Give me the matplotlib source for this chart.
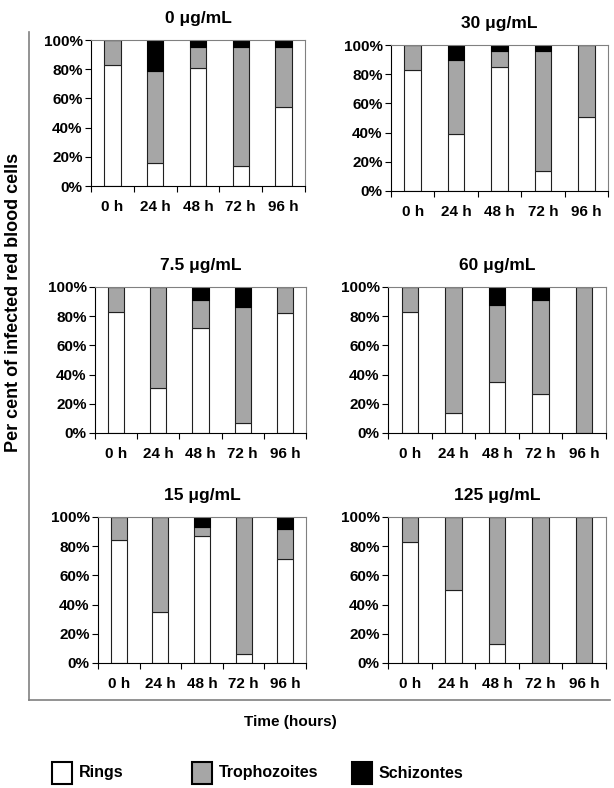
import numpy as np
import matplotlib.pyplot as plt
from matplotlib.lines import Line2D
from matplotlib.patches import Rectangle

plt.rcParams['font.family'] = ['Liberation Sans', 'DejaVu Sans']
plt.rcParams['font.weight'] = 'bold'

# --- data (percent of infected red blood cells) ---
times = ["0 h", "24 h", "48 h", "72 h", "96 h"]
panels = ["0 \u03bcg/mL", "30 \u03bcg/mL", "7.5 \u03bcg/mL",
          "60 \u03bcg/mL", "15 \u03bcg/mL", "125 \u03bcg/mL"]

rings = [
    [83, 16, 81, 14, 54],
    [83, 39, 85, 14, 51],
    [83, 31, 72, 7, 82],
    [83, 14, 35, 27, 0],
    [84, 35, 87, 6, 71],
    [83, 50, 13, 0, 0],
]
troph = [
    [17, 63, 14, 81, 41],
    [17, 51, 11, 82, 49],
    [17, 69, 19, 79, 18],
    [17, 86, 53, 64, 100],
    [16, 65, 6, 94, 21],
    [17, 50, 87, 100, 100],
]
schiz = [
    [0, 21, 5, 5, 5],
    [0, 10, 4, 4, 0],
    [0, 0, 9, 14, 0],
    [0, 0, 12, 9, 0],
    [0, 0, 7, 0, 8],
    [0, 0, 0, 0, 0],
]

# axes placement in pixels: left, y of the 0% line, width
W, H = 614, 788
pos = [(91, 186, 214), (391, 191, 217),
       (95, 433, 211), (388, 433, 218),
       (98, 663, 208), (388, 663, 218)]
ph = 146

fig = plt.figure(figsize=(W / 100, H / 100), dpi=100)
gray = '#a6a6a6'
x = np.arange(len(times))
bw = 0.38

for i, name in enumerate(panels):
    l, b, w = pos[i]
    ax = fig.add_axes([l / W, 1 - b / H, w / W, ph / H])
    r = np.array(rings[i])
    t = np.array(troph[i])
    s = np.array(schiz[i])
    ax.bar(x, r, bw, color='white', edgecolor='#202020', linewidth=0.8)
    ax.bar(x, t, bw, bottom=r, color=gray, edgecolor='#202020', linewidth=0.8)
    ax.bar(x, s, bw, bottom=r + t, color='black', edgecolor='black', linewidth=0.8)
    ax.set_xlim(-0.5, 4.5)
    ax.set_ylim(0, 100)
    ax.set_yticks([0, 20, 40, 60, 80, 100])
    ax.set_yticklabels([f"{v}%" for v in range(0, 101, 20)])
    ax.set_xticks(np.arange(-0.5, 5, 1))
    ax.set_xticklabels([])
    ax.set_xticks(x, minor=True)
    ax.set_xticklabels(times, minor=True)
    ax.tick_params(axis='x', which='major', direction='out', length=4, width=0.8)
    ax.tick_params(axis='x', which='minor', length=0, pad=10)
    ax.tick_params(axis='y', direction='out', length=4, width=0.8, pad=2)
    for lab in ax.get_xticklabels(minor=True) + ax.get_yticklabels():
        lab.set_fontsize(11)
        lab.set_fontweight('bold')
    for sp in ['top', 'right']:
        ax.spines[sp].set_color('#808080')
        ax.spines[sp].set_linewidth(0.8)
    ax.spines['left'].set_linewidth(0.8)
    ax.spines['bottom'].set_linewidth(0.8)
    ax.set_title(name, fontsize=12.5, fontweight='bold', pad=12)

# outer frame lines
fig.add_artist(Line2D([29 / W, 29 / W], [1 - 32 / H, 1 - 700 / H], color='#808080', lw=1.2))
fig.add_artist(Line2D([29 / W, 610 / W], [1 - 700 / H, 1 - 700 / H], color='#808080', lw=1.2))

fig.text(14 / W, 1 - 302 / H, "Per cent of infected red blood cells", rotation=90,
         ha='center', va='center', fontsize=13, fontweight='bold')
fig.text(290 / W, 1 - 722 / H, "Time (hours)", ha='center', va='center',
         fontsize=11, fontweight='bold')

# legend
legend_items = [("Rings", 'white', 52), ("Trophozoites", gray, 192), ("Schizontes", 'black', 352)]
for lab, col, lx in legend_items:
    fig.add_artist(Rectangle((lx / W, 1 - 784 / H), 20 / W, 22 / H, facecolor=col,
                             edgecolor='black', linewidth=1.5, transform=fig.transFigure))
    fig.text((lx + 27) / W, 1 - 773 / H, lab, ha='left', va='center',
             fontsize=11.5, fontweight='bold')

fig.savefig("out.png", dpi=100)
